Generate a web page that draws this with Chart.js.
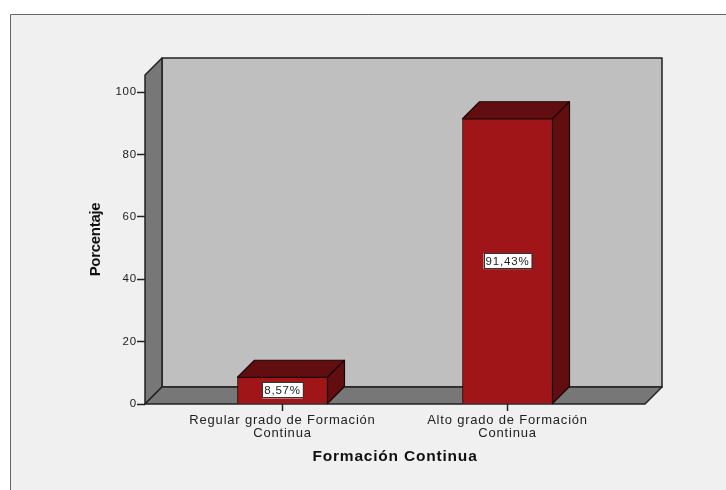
<!DOCTYPE html>
<html>
<head>
<meta charset="utf-8">
<style>
  html, body { margin: 0; padding: 0; background: #fff; }
  canvas { display: block; }
</style>
<script src="https://cdn.jsdelivr.net/npm/chart.js@4/dist/chart.umd.min.js"></script>
</head>
<body>
<canvas id="chart" width="726" height="490"></canvas>
<script>
const categories = [['Regular grado de Formación', 'Continua'], ['Alto grado de Formación', 'Continua']];
const values = [8.57, 91.43];
const valueLabels = ['8,57%', '91,43%'];
const yTicks = [0, 20, 40, 60, 80, 100];
const yTitle = 'Porcentaje';

const depth = 17;
const lineColor = '#222';

function poly(ctx, pts, fill) {
    ctx.beginPath();
    pts.forEach((p, i) => i ? ctx.lineTo(p[0], p[1]) : ctx.moveTo(p[0], p[1]));
    ctx.closePath();
    ctx.fillStyle = fill;
    ctx.fill();
    ctx.stroke();
}

// Panel behind the chart
const framePlugin = {
    id: 'frame',
    beforeDraw(chart) {
        const ctx = chart.ctx;
        // the text in the original is spaced out a bit
        ctx.letterSpacing = '0.8px';
        ctx.save();
        ctx.fillStyle = '#fff';
        ctx.fillRect(0, 0, chart.width, chart.height);
        ctx.fillStyle = '#f0f0f0';
        ctx.fillRect(10, 14, chart.width - 10, chart.height - 14);
        ctx.strokeStyle = '#666';
        ctx.lineWidth = 1;
        ctx.beginPath();
        ctx.moveTo(10.5, chart.height);
        ctx.lineTo(10.5, 14.5);
        ctx.lineTo(chart.width, 14.5);
        ctx.stroke();
        ctx.restore();
    }
};

// Walls, floor and the side and top faces of the bars
const depthPlugin = {
    id: 'depth',
    beforeDatasetsDraw(chart) {
        const ctx = chart.ctx;
        const { left, right, top, bottom } = chart.chartArea;
        ctx.save();
        ctx.strokeStyle = lineColor;
        ctx.lineWidth = 1.5;
        ctx.lineJoin = 'round';
        poly(ctx, [[left + depth, top - depth], [right + depth, top - depth], [right + depth, bottom - depth], [left + depth, bottom - depth]], '#bfbfbf');
        poly(ctx, [[left, top], [left + depth, top - depth], [left + depth, bottom - depth], [left, bottom]], '#777');
        poly(ctx, [[left, bottom], [left + depth, bottom - depth], [right + depth, bottom - depth], [right, bottom]], '#777');
        ctx.strokeStyle = '#1c0404';
        ctx.lineWidth = 1.2;
        chart.getDatasetMeta(0).data.forEach(bar => {
            const l = bar.x - bar.width / 2, r = bar.x + bar.width / 2;
            poly(ctx, [[l, bar.y], [l + depth, bar.y - depth], [r + depth, bar.y - depth], [r, bar.y]], '#620e10');
            poly(ctx, [[r, bar.y], [r + depth, bar.y - depth], [r + depth, bar.base - depth], [r, bar.base]], '#620e10');
        });
        ctx.restore();
    },
    afterDatasetsDraw(chart) {
        const ctx = chart.ctx;
        ctx.save();
        ctx.font = '11.5px "Liberation Sans"';
        ctx.textAlign = 'center';
        ctx.textBaseline = 'middle';
        chart.getDatasetMeta(0).data.forEach((bar, i) => {
            const cy = (bar.y + bar.base) / 2;
            const w = ctx.measureText(valueLabels[i]).width + 4;
            ctx.fillStyle = '#fff';
            ctx.fillRect(bar.x - w / 2, cy - 8, w, 16);
            ctx.strokeStyle = '#333';
            ctx.lineWidth = 1;
            ctx.strokeRect(Math.round(bar.x - w / 2) + 0.5, Math.round(cy - 8) + 0.5, Math.round(w), 15);
            ctx.fillStyle = lineColor;
            ctx.fillText(valueLabels[i], bar.x, cy + 0.5);
        });
        ctx.restore();
    },
    // the y title is narrower than the other text, so it is set here
    afterDraw(chart) {
        const ctx = chart.ctx;
        const { top, bottom } = chart.chartArea;
        ctx.save();
        ctx.translate(95.5, (top + bottom) / 2);
        ctx.rotate(-Math.PI / 2);
        ctx.letterSpacing = '-0.3px';
        ctx.font = 'bold 15px "Liberation Sans"';
        ctx.textAlign = 'center';
        ctx.textBaseline = 'middle';
        ctx.fillStyle = '#111';
        ctx.fillText(yTitle, 0, 0);
        ctx.restore();
    }
};

new Chart(document.getElementById('chart'), {
    type: 'bar',
    data: {
        datasets: [{
            data: values.map((v, i) => ({ x: i, y: v })),
            backgroundColor: '#a01518',
            borderColor: '#1c0404',
            borderWidth: 1,
            barThickness: 90
        }]
    },
    plugins: [framePlugin, depthPlugin],
    options: {
        responsive: false,
        animation: false,
        layout: { padding: { left: 87, top: 75, right: 81, bottom: 24 } },
        plugins: { legend: { display: false }, tooltip: { enabled: false } },
        scales: {
            x: {
                type: 'linear',
                offset: false,
                min: -0.611,
                max: 1.611,
                afterBuildTicks(scale) { scale.ticks = categories.map((c, i) => ({ value: i })); },
                afterFit(scale) { scale.height = 62; },
                grid: { offset: false, drawOnChartArea: false, drawTicks: true, tickLength: 7, tickWidth: 1.5, color: lineColor },
                border: { display: false },
                ticks: {
                    autoSkip: false,
                    maxRotation: 0,
                    padding: 3,
                    color: lineColor,
                    font: { family: '"Liberation Sans"', size: 13, lineHeight: 1 },
                    callback: value => categories[value]
                },
                title: {
                    display: true,
                    text: 'Formación Continua',
                    color: '#111',
                    padding: 0,
                    font: { family: '"Liberation Sans"', size: 15.5, weight: 'bold', lineHeight: 1.2 }
                }
            },
            y: {
                min: 0,
                max: 105.45,
                afterBuildTicks(scale) { scale.ticks = yTicks.map(v => ({ value: v })); },
                afterFit(scale) { scale.width = 58; },
                grid: { drawOnChartArea: false, drawTicks: true, tickLength: 8, tickWidth: 1.5, color: lineColor },
                border: { display: false },
                ticks: {
                    padding: 0,
                    color: lineColor,
                    font: { family: '"Liberation Sans"', size: 11.5 }
                }
            }
        }
    }
});
</script>
</body>
</html>
